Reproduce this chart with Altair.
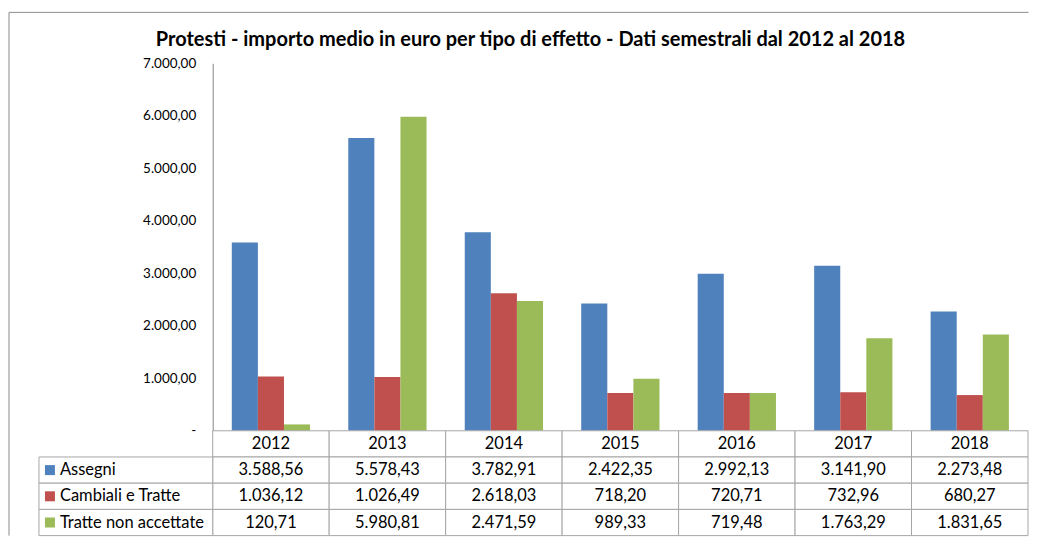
import altair as alt
import pandas as pd

# ---------------- data ----------------
years = ["2012", "2013", "2014", "2015", "2016", "2017", "2018"]
series = ["Assegni", "Cambiali e Tratte", "Tratte non accettate"]
assegni = [3588.56, 5578.43, 3782.91, 2422.35, 2992.13, 3141.90, 2273.48]
cambiali = [1036.12, 1026.49, 2618.03, 718.20, 720.71, 732.96, 680.27]
tratte = [120.71, 5980.81, 2471.59, 989.33, 719.48, 1763.29, 1831.65]
colors = ["#4F81BD", "#C0504D", "#9BBB59"]
y_ticks = [0, 1000, 2000, 3000, 4000, 5000, 6000, 7000]
title_text = "Protesti - importo medio in euro per tipo di effetto - Dati semestrali dal 2012 al 2018"

rows = []
for si, (name, vals) in enumerate(zip(series, [assegni, cambiali, tratte])):
    for yi, (yr, v) in enumerate(zip(years, vals)):
        rows.append({"year": yr, "yi": yi, "series": name, "si": si, "value": v, "row": name})
df = pd.DataFrame(rows)
hdr = pd.DataFrame({"year": years, "yi": list(range(len(years))), "row": " "})
lbl = pd.DataFrame({"series": series, "row": series})
one = pd.DataFrame({"k": [0]})

# ---------------- layout constants ----------------
FONT = "Lato"
LABEL_PX = 174                      # width of the legend/label column in px
COL_PX = 116.64                     # width of a year column in px
PLOT_W = LABEL_PX + 7 * COL_PX
PLOT_H, TABLE_H = 368, 105
LABEL_W = LABEL_PX / COL_PX         # label column width in column units
BAR = 0.224                         # bar width in column units
GAP = (1 - 3 * BAR) / 2             # gap inside a year column
BORDER = "#A6A6A6"
FRAME = "#8C8C8C"
Y_MAX = 7000
PX_Y = Y_MAX / PLOT_H               # data units per px on y

xscale = alt.Scale(domain=[-LABEL_W, len(years)], nice=False, zero=False)
yscale_bar = alt.Scale(domain=[0, Y_MAX], nice=False)
color = alt.Color("series:N", scale=alt.Scale(domain=series, range=colors), legend=None)
it_fmt = "replace(replace(replace(format(datum.value, ',.2f'), ',', '_'), '.', ','), '_', '.')"

# ---------------- bar chart ----------------
bars = alt.Chart(df).transform_calculate(
    x0=f"datum.yi + {GAP} + datum.si * {BAR}",
    x1=f"datum.yi + {GAP} + (datum.si + 1) * {BAR}",
    zero="0",
).mark_rect().encode(
    x=alt.X("x0:Q", scale=xscale, axis=None),
    x2="x1:Q",
    y=alt.Y(
        "value:Q",
        scale=yscale_bar,
        axis=alt.Axis(
            values=y_ticks,
            labelExpr="datum.value == 0 ? '-\u2007' : " + it_fmt,
            title=None, grid=False, ticks=False, tickSize=0,
            domainColor="#868686", labelFont=FONT, labelFontSize=13.5,
            labelColor="black", labelPadding=17, offset=-LABEL_PX,
        ),
    ),
    y2="zero:Q",
    color=color,
)

# chart-area frame (left and top edges)
fx = -LABEL_W - 30 / COL_PX
ftop = Y_MAX + 51 * PX_Y
fbot = -(TABLE_H) * PX_Y
fright = len(years) + 0.5 / COL_PX
frame_v = alt.Chart(one).transform_calculate(
    fx=f"{fx}", ft=f"{ftop}", fb=f"{fbot}"
).mark_rule(color=FRAME, strokeWidth=1).encode(
    x=alt.X("fx:Q", title=None),
    y=alt.Y("ft:Q", title=None),
    y2="fb:Q",
)
frame_h = alt.Chart(one).transform_calculate(
    fx=f"{fx}", fr=f"{fright}", ft=f"{ftop}"
).mark_rule(color=FRAME, strokeWidth=1).encode(
    x=alt.X("fx:Q", title=None),
    x2="fr:Q",
    y=alt.Y("ft:Q", title=None),
)

bar_chart = alt.layer(bars, frame_v, frame_h).properties(
    width=PLOT_W, height=PLOT_H,
    title=alt.TitleParams(title_text, font=FONT, fontSize=20, fontWeight="bold",
                          color="black", anchor="middle", frame="group",
                          dx=-3, offset=-38),
)

# ---------------- data table ----------------
yscale = alt.Scale(domain=[" "] + series, paddingInner=0, paddingOuter=0)

cells_vals = alt.Chart(df).transform_calculate(
    c0="datum.yi", c1="datum.yi + 1", cx="datum.yi + 0.5",
    txt=it_fmt,
)
cells_hdr = alt.Chart(hdr).transform_calculate(
    c0="datum.yi", c1="datum.yi + 1", cx="datum.yi + 0.5",
)

def cell_rects(base):
    return base.mark_rect(fill="white", stroke=BORDER, strokeWidth=1).encode(
        x=alt.X("c0:Q", scale=xscale, axis=None),
        x2="c1:Q",
        y=alt.Y("row:N", scale=yscale, axis=None),
    )

val_text = cells_vals.mark_text(font=FONT, fontSize=16.5, color="black").encode(
    x=alt.X("cx:Q", scale=xscale, axis=None),
    y=alt.Y("row:N", scale=yscale, axis=None),
    text="txt:N",
)
hdr_text = cells_hdr.mark_text(font=FONT, fontSize=16.5, color="black").encode(
    x=alt.X("cx:Q", scale=xscale, axis=None),
    y=alt.Y("row:N", scale=yscale, axis=None),
    text="year:N",
)

lbl_base = alt.Chart(lbl).transform_calculate(
    c0=f"{-LABEL_W}", c1="0", sq=f"{-LABEL_W} + 11 / {COL_PX}",
)
lbl_rects = lbl_base.mark_rect(fill="white", stroke=BORDER, strokeWidth=1).encode(
    x=alt.X("c0:Q", scale=xscale, axis=None),
    x2="c1:Q",
    y=alt.Y("row:N", scale=yscale, axis=None),
)
lbl_sq = lbl_base.mark_square(size=100, opacity=1).encode(
    x=alt.X("sq:Q", scale=xscale, axis=None),
    y=alt.Y("row:N", scale=yscale, axis=None),
    color=color,
)
lbl_text = lbl_base.mark_text(font=FONT, fontSize=16.5, color="black", align="left", dx=21).encode(
    x=alt.X("c0:Q", scale=xscale, axis=None),
    y=alt.Y("row:N", scale=yscale, axis=None),
    text="series:N",
)

table = alt.layer(
    cell_rects(cells_hdr), cell_rects(cells_vals), lbl_rects,
    hdr_text, val_text, lbl_sq, lbl_text,
).properties(width=PLOT_W, height=TABLE_H)

chart = alt.vconcat(bar_chart, table, spacing=0, bounds="flush").properties(
    padding={"left": 0, "top": 3, "right": 0, "bottom": 0},
).configure_view(stroke=None)

chart.save("out.html", embed_options={"renderer": "svg", "actions": False})
